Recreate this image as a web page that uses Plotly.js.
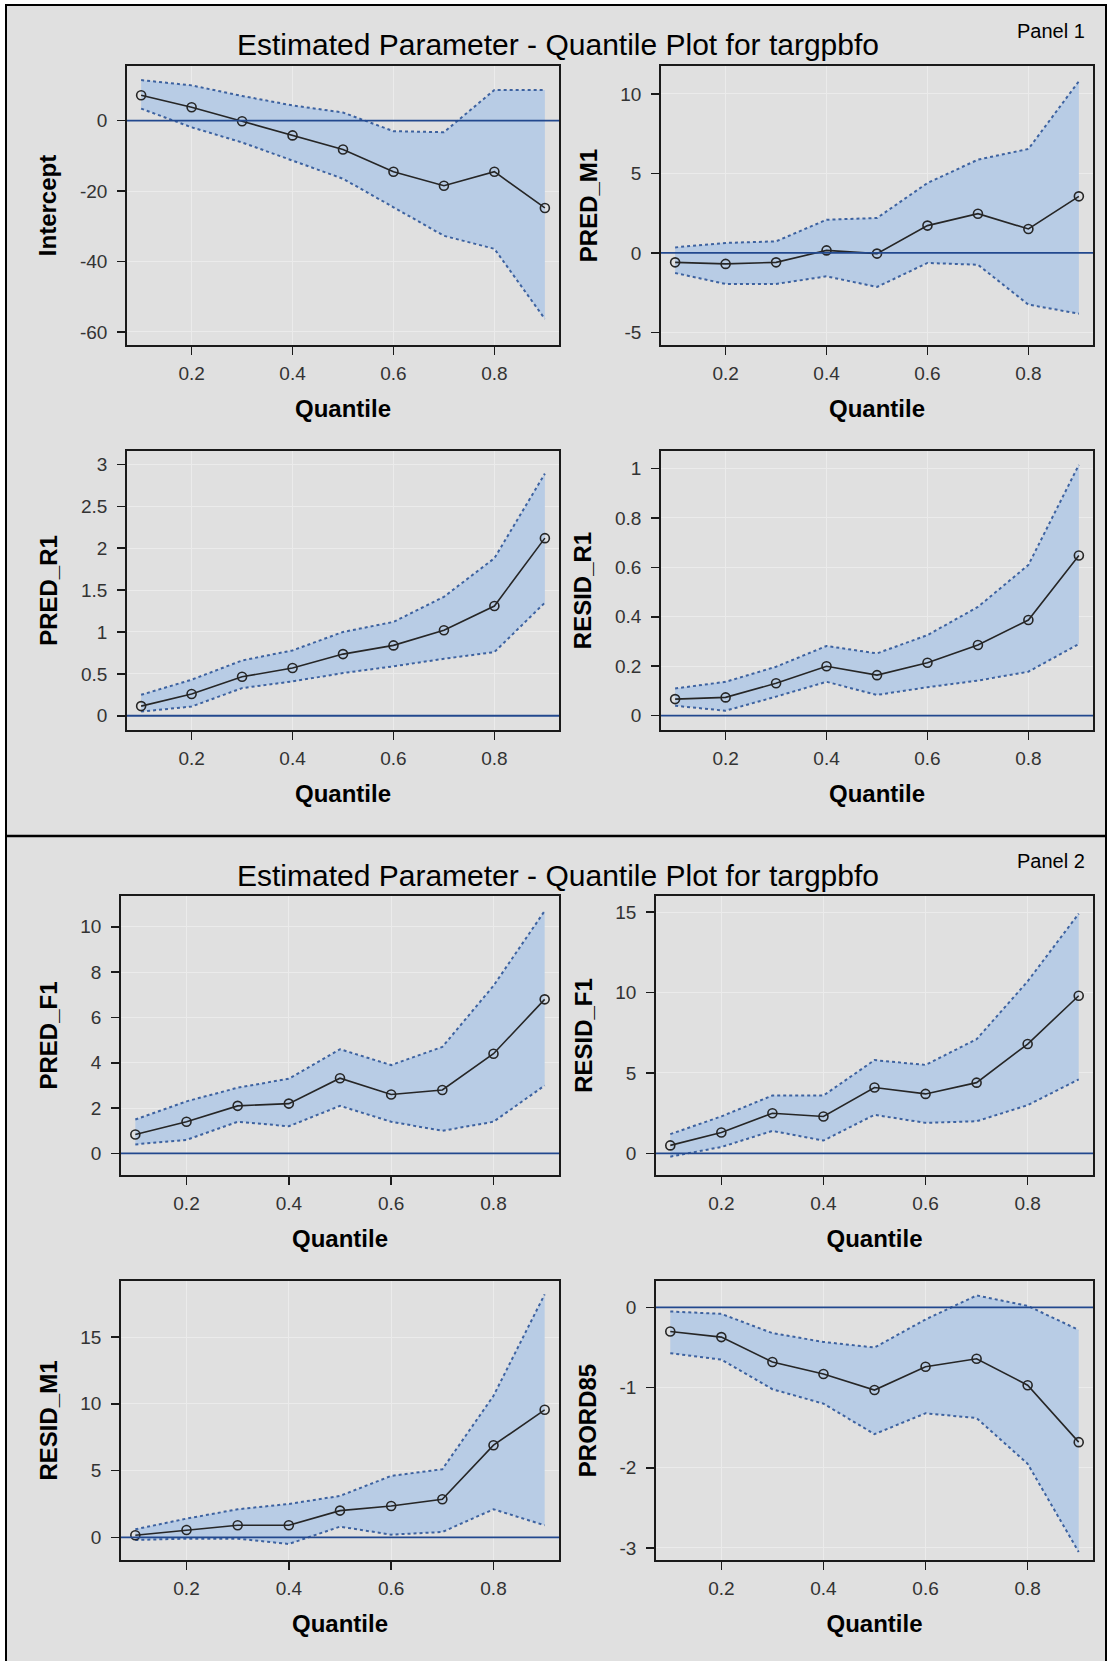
<!DOCTYPE html>
<html>
<head>
<meta charset="utf-8">
<script src="https://cdn.plot.ly/plotly-3.0.1.min.js"></script>
<style>
html,body{margin:0;padding:0;background:#ffffff;}
#chart{width:1109px;height:1661px;}
</style>
</head>
<body>
<div id="chart"></div>
<script>
// ---------------- data ----------------
const quantiles = [0.1, 0.2, 0.3, 0.4, 0.5, 0.6, 0.7, 0.8, 0.9];
const xTickVals = [0.2, 0.4, 0.6, 0.8];
const xTickText = ['0.2', '0.4', '0.6', '0.8'];

const panelTitles = ['Estimated Parameter - Quantile Plot for targpbfo', 'Estimated Parameter - Quantile Plot for targpbfo'];
const panelLabels = ['Panel 1', 'Panel 2'];
const xAxisTitle = 'Quantile';

// Panel 1
const interceptEst   = [7.2, 3.8, -0.2, -4.2, -8.2, -14.5, -18.5, -14.5, -24.8];
const interceptLower = [3.4, -1.9, -6.2, -11.4, -16.5, -24.6, -32.7, -36.4, -56.3];
const interceptUpper = [11.5, 10.0, 7.0, 4.3, 2.3, -3.0, -3.3, 8.7, 8.7];

const predM1Est   = [-0.59, -0.69, -0.59, 0.16, -0.04, 1.72, 2.47, 1.51, 3.56];
const predM1Lower = [-1.26, -1.95, -1.95, -1.47, -2.14, -0.63, -0.74, -3.25, -3.82];
const predM1Upper = [0.35, 0.63, 0.73, 2.09, 2.20, 4.40, 5.87, 6.54, 10.8];

const predR1Est   = [0.115, 0.26, 0.465, 0.57, 0.736, 0.84, 1.02, 1.31, 2.12];
const predR1Lower = [0.05, 0.11, 0.33, 0.41, 0.51, 0.59, 0.68, 0.76, 1.35];
const predR1Upper = [0.25, 0.43, 0.66, 0.78, 1.00, 1.12, 1.42, 1.88, 2.89];

const residR1Est   = [0.067, 0.074, 0.131, 0.200, 0.164, 0.214, 0.286, 0.387, 0.648];
const residR1Lower = [0.040, 0.020, 0.077, 0.137, 0.084, 0.115, 0.142, 0.178, 0.290];
const residR1Upper = [0.110, 0.137, 0.198, 0.282, 0.252, 0.326, 0.440, 0.610, 1.015];

// Panel 2
const predF1Est   = [0.84, 1.40, 2.10, 2.20, 3.32, 2.60, 2.80, 4.40, 6.80];
const predF1Lower = [0.40, 0.60, 1.40, 1.20, 2.10, 1.40, 1.00, 1.40, 3.00];
const predF1Upper = [1.50, 2.30, 2.90, 3.30, 4.60, 3.90, 4.70, 7.40, 10.7];

const residF1Est   = [0.5, 1.3, 2.5, 2.3, 4.1, 3.7, 4.4, 6.8, 9.8];
const residF1Lower = [-0.2, 0.4, 1.4, 0.8, 2.4, 1.9, 2.0, 3.0, 4.6];
const residF1Upper = [1.2, 2.3, 3.6, 3.6, 5.8, 5.5, 7.1, 10.7, 14.9];

const residM1Est   = [0.15, 0.55, 0.90, 0.90, 2.00, 2.35, 2.85, 6.90, 9.55];
const residM1Lower = [-0.2, -0.1, -0.1, -0.5, 0.8, 0.2, 0.4, 2.1, 0.9];
const residM1Upper = [0.6, 1.4, 2.1, 2.5, 3.1, 4.6, 5.1, 10.6, 18.2];

const prord85Est   = [-0.30, -0.37, -0.68, -0.83, -1.03, -0.74, -0.64, -0.97, -1.68];
const prord85Lower = [-0.57, -0.65, -1.02, -1.20, -1.58, -1.32, -1.38, -1.95, -3.05];
const prord85Upper = [-0.05, -0.08, -0.32, -0.43, -0.50, -0.15, 0.15, 0.02, -0.28];

const plotNames = ['Intercept', 'PRED_M1', 'PRED_R1', 'RESID_R1', 'PRED_F1', 'RESID_F1', 'RESID_M1', 'PRORD85'];
const estimates = [interceptEst, predM1Est, predR1Est, residR1Est, predF1Est, residF1Est, residM1Est, prord85Est];
const lowers = [interceptLower, predM1Lower, predR1Lower, residR1Lower, predF1Lower, residF1Lower, residM1Lower, prord85Lower];
const uppers = [interceptUpper, predM1Upper, predR1Upper, residR1Upper, predF1Upper, residF1Upper, residM1Upper, prord85Upper];

const yTickVals = [
  [-60, -40, -20, 0],
  [-5, 0, 5, 10],
  [0, 0.5, 1, 1.5, 2, 2.5, 3],
  [0, 0.2, 0.4, 0.6, 0.8, 1],
  [0, 2, 4, 6, 8, 10],
  [0, 5, 10, 15],
  [0, 5, 10, 15],
  [-3, -2, -1, 0]
];
const yTickText = [
  ['-60', '-40', '-20', '0'],
  ['-5', '0', '5', '10'],
  ['0', '0.5', '1', '1.5', '2', '2.5', '3'],
  ['0', '0.2', '0.4', '0.6', '0.8', '1'],
  ['0', '2', '4', '6', '8', '10'],
  ['0', '5', '10', '15'],
  ['0', '5', '10', '15'],
  ['-3', '-2', '-1', '0']
];

// ---------------- layout geometry (pixels) ----------------
const W = 1109, H = 1661;
const boxes = [
  {x: [127, 559], y: [66, 345]},
  {x: [661, 1093], y: [66, 345]},
  {x: [127, 559], y: [451, 730]},
  {x: [661, 1093], y: [451, 730]},
  {x: [121, 559], y: [896, 1175]},
  {x: [656, 1093], y: [896, 1175]},
  {x: [121, 559], y: [1281, 1560]},
  {x: [656, 1093], y: [1281, 1560]}
];
const yRanges = [
  [-63.7, 15.5],
  [-5.79, 11.76],
  [-0.17, 3.16],
  [-0.058, 1.071],
  [-0.95, 11.36],
  [-1.34, 16.0],
  [-1.7, 19.2],
  [-3.15, 0.33]
];
const xRange = [0.072, 0.928];

const BAND_FILL = '#b8cce5';
const BAND_LINE = '#3d62a0';
const REF_LINE = '#22488e';
const FONT = 'Liberation Sans, Arial, sans-serif';

const traces = [];
const layout = {
  width: W, height: H,
  margin: {l: 0, r: 0, t: 0, b: 0},
  paper_bgcolor: '#ffffff',
  plot_bgcolor: '#ffffff',
  showlegend: false,
  hovermode: false,
  font: {family: FONT, color: '#000'},
  shapes: [],
  annotations: []
};

// outer frame and divider
layout.shapes.push({type: 'rect', xref: 'paper', yref: 'paper', layer: 'below',
  x0: 6 / W, x1: 1106 / W, y0: -0.01, y1: 1 - 5 / H,
  fillcolor: '#e0e0e0', line: {color: '#000', width: 2}});
layout.shapes.push({type: 'line', xref: 'paper', yref: 'paper', layer: 'below',
  x0: 6 / W, x1: 1106 / W, y0: 1 - 836 / H, y1: 1 - 836 / H,
  line: {color: '#000', width: 2.5}});

// panel titles
[0, 1].forEach(function (p) {
  const off = p * 830;
  layout.annotations.push({xref: 'paper', yref: 'paper', x: 558 / W, y: 1 - (45 + off) / H,
    xanchor: 'center', yanchor: 'middle', showarrow: false, text: panelTitles[p],
    font: {family: FONT, size: 30, color: '#000'}});
  layout.annotations.push({xref: 'paper', yref: 'paper', x: 1087 / W, y: 1 - (31 + off) / H,
    xanchor: 'right', yanchor: 'middle', showarrow: false, text: panelLabels[p],
    font: {family: FONT, size: 20, color: '#000'}});
});

plotNames.forEach(function (name, i) {
  const n = i + 1;
  const xa = 'x' + (n === 1 ? '' : n);
  const ya = 'y' + (n === 1 ? '' : n);
  const xKey = 'xaxis' + (n === 1 ? '' : n);
  const yKey = 'yaxis' + (n === 1 ? '' : n);
  const b = boxes[i];

  traces.push({x: quantiles, y: lowers[i], xaxis: xa, yaxis: ya, type: 'scatter', mode: 'lines',
    line: {color: BAND_LINE, width: 2, dash: 'dot'}, hoverinfo: 'skip'});
  traces.push({x: quantiles, y: uppers[i], xaxis: xa, yaxis: ya, type: 'scatter', mode: 'lines',
    fill: 'tonexty', fillcolor: BAND_FILL,
    line: {color: BAND_LINE, width: 2, dash: 'dot'}, hoverinfo: 'skip'});
  traces.push({x: quantiles, y: estimates[i], xaxis: xa, yaxis: ya, type: 'scatter', mode: 'lines+markers',
    line: {color: '#262626', width: 1.6},
    marker: {symbol: 'circle-open', size: 9, color: '#262626', line: {width: 1.6, color: '#262626'}}});

  layout[xKey] = {
    domain: [b.x[0] / W, b.x[1] / W], anchor: ya, range: xRange,
    tickmode: 'array', tickvals: xTickVals, ticktext: xTickText,
    ticks: 'outside', ticklen: 8, tickwidth: 1.5, tickcolor: '#1a1a1a',
    ticklabelstandoff: 2,
    showline: true, mirror: true, linecolor: '#1a1a1a', linewidth: 1.8,
    showgrid: true, gridcolor: '#ebebeb', gridwidth: 1, zeroline: false,
    tickfont: {family: FONT, size: 19, color: '#333'},
    title: {text: xAxisTitle, standoff: 18, font: {family: FONT, size: 24, color: '#000', weight: 'bold'}}
  };
  layout[yKey] = {
    domain: [1 - b.y[1] / H, 1 - b.y[0] / H], anchor: xa, range: yRanges[i],
    tickmode: 'array', tickvals: yTickVals[i], ticktext: yTickText[i],
    ticks: 'outside', ticklen: 8, tickwidth: 1.5, tickcolor: '#1a1a1a',
    ticklabelstandoff: 6,
    showline: true, mirror: true, linecolor: '#1a1a1a', linewidth: 1.8,
    showgrid: true, gridcolor: '#ebebeb', gridwidth: 1, zeroline: false,
    tickfont: {family: FONT, size: 19, color: '#333'},
    title: {text: name, standoff: 16, font: {family: FONT, size: 24, color: '#000', weight: 'bold'}}
  };

  // horizontal reference line at zero
  layout.shapes.push({type: 'line', xref: xa + ' domain', yref: ya, layer: 'above',
    x0: 0, x1: 1, y0: 0, y1: 0, line: {color: REF_LINE, width: 1.8}});
});

Plotly.newPlot('chart', traces, layout, {displayModeBar: false, staticPlot: true});
</script>
</body>
</html>
